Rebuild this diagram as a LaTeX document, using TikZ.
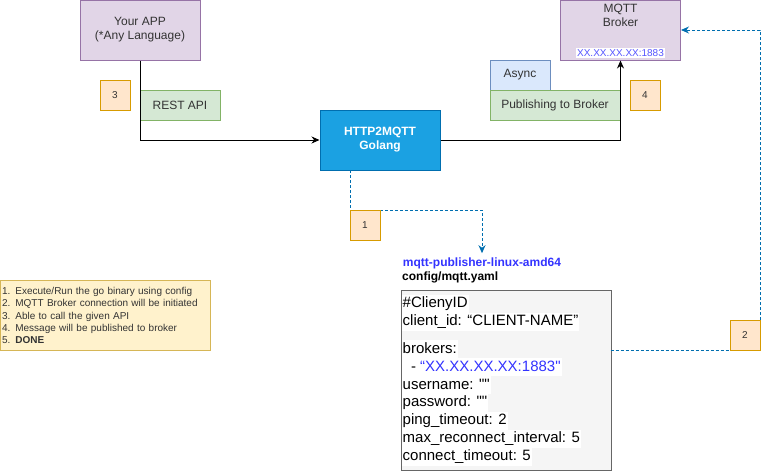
\documentclass[tikz,border=0pt]{standalone}
\usepackage{fontspec}
\setmainfont{Liberation Sans}[Ligatures=TeXOff]
\usetikzlibrary{arrows.meta}
\definecolor{purpfill}{HTML}{E1D5E7}
\definecolor{purpdraw}{HTML}{9673A6}
\definecolor{grnfill}{HTML}{D5E8D4}
\definecolor{grndraw}{HTML}{82B366}
\definecolor{blufill}{HTML}{DAE8FC}
\definecolor{bludraw}{HTML}{6C8EBF}
\definecolor{numfill}{HTML}{FFE6CC}
\definecolor{numdraw}{HTML}{D79B00}
\definecolor{notefill}{HTML}{FFF2CC}
\definecolor{notedraw}{HTML}{D6B656}
\definecolor{goFill}{HTML}{1BA1E2}
\definecolor{goDraw}{HTML}{006EAF}
\definecolor{dblue}{HTML}{006EAF}
\definecolor{cfgfill}{HTML}{F5F5F5}
\definecolor{cfgdraw}{HTML}{666666}
\definecolor{txtblue}{HTML}{3333FF}
\definecolor{ipblue}{HTML}{5555FF}
\definecolor{boxtext}{HTML}{333333}
\begin{document}
\begin{tikzpicture}[x=1pt,y=-1pt,
  box/.style={draw, rectangle, line width=1pt, inner sep=0pt, align=center,
    text=boxtext, font=\fontsize{12}{14}\selectfont},
  purpbox/.style={box, fill=purpfill, draw=purpdraw, minimum width=120pt, minimum height=60pt},
  greenbox/.style={box, fill=grnfill, draw=grndraw, minimum height=30pt},
  bluebox/.style={box, fill=blufill, draw=bludraw, minimum height=30pt},
  numbox/.style={box, fill=numfill, draw=numdraw, minimum width=30pt, minimum height=30pt,
    font=\fontsize{10}{12}\selectfont},
  flow/.style={line width=1pt, -{Stealth[length=8pt,width=7pt]}},
  dflow/.style={line width=1pt, draw=dblue, dash pattern=on 3pt off 2pt,
    -{Stealth[length=8pt,width=7pt]}},
  cfgline/.style={anchor=west, fill=white, inner xsep=1pt, inner ysep=0pt,
    minimum height=18pt, font=\fontsize{15}{18}\selectfont}
]
\useasboundingbox (0,0) rectangle (769,471);

% main boxes
\node[purpbox] (app) at (140,30) {Your APP\\(*Any Language)};
\node[purpbox, minimum width=120pt] (broker) at (620.5,30) {};
\node[text=boxtext, align=center, font=\fontsize{12}{14.5}\selectfont, inner sep=0pt]
  (brokertxt) at (620.5,15.5) {MQTT\\Broker};
\node[fill=white, text=ipblue, inner xsep=1pt, inner ysep=1pt,
  font=\fontsize{10}{12}\selectfont] (ip) at (620.5,53) {XX.XX.XX.XX:1883};

\node[bluebox, minimum width=60pt] (async) at (520,75) {Async};
\node[greenbox, minimum width=130pt] (pub) at (555,105) {Publishing to Broker};
\node[greenbox, minimum width=80pt] (rest) at (180,105) {REST API};
\node[box, fill=goFill, draw=goDraw, text=white, minimum width=120pt, minimum height=60pt,
  font=\bfseries\fontsize{12}{14}\selectfont] (http) at (380,140) {HTTP2MQTT\\Golang};

% notes
\node[draw=notedraw, fill=notefill, line width=1pt, anchor=north west,
  text width=207pt, inner xsep=1.5pt, inner ysep=0pt, minimum height=70pt, align=left,
  font=\fontsize{10}{12.4}\selectfont, text=boxtext] (note) at (0,280)
  {1. Execute/Run the go binary using config\\
   2. MQTT Broker connection will be initiated\\
   3. Able to call the given API\\
   4. Message will be published to broker\\
   5. \textbf{DONE}};

% binary labels
\node[text=txtblue, font=\bfseries\fontsize{12}{14}\selectfont, inner xsep=0pt, inner ysep=4pt]
  (bin) at (482,263) {mqtt-publisher-linux-amd64};
\node[anchor=west, font=\bfseries\fontsize{12}{14}\selectfont, inner sep=0pt]
  (cfgname) at (402,277) {config/mqtt.yaml};

% config box
\node[draw=cfgdraw, fill=cfgfill, line width=1pt, anchor=north west,
  minimum width=210pt, minimum height=180pt, inner sep=0pt] (cfg) at (400.5,290) {};
\node[cfgline] (l1) at (401.5,304) {\#ClienyID};
\node[cfgline] (l2) at (401.5,322) {client\_id: “CLIENT-NAME”};
\node[cfgline] (l3) at (401.5,348.5) {brokers:};
\node[cfgline] (l4) at (401.5,366.5) {\ \ - \textcolor{txtblue}{“XX.XX.XX.XX:1883"}};
\node[cfgline] (l5) at (401.5,384.5) {username: ""};
\node[cfgline] (l6) at (401.5,402.5) {password: ""};
\node[cfgline] (l7) at (401.5,420.5) {ping\_timeout: 2};
\node[cfgline] (l8) at (401.5,438.5) {max\_reconnect\_interval: 5};
\node[cfgline] (l9) at (401.5,456.5) {connect\_timeout: 5};

% connectors
\draw[flow] (app.south) |- (http.west);
\draw[flow] (http.east) -| (broker.south);

\coordinate (d1) at (350,170);
\coordinate (d1b) at (350,210);
\draw[dflow] (d1) -- (d1b) -| (bin.north);

\coordinate (c2) at (610.5,350.5);
\coordinate (c3) at (760,30);
\draw[dflow] (c2) -| (c3) -- (broker.east);

% number boxes
\node[numbox] (n1) at (365,225) {1};
\node[numbox] (n2) at (745,335.5) {2};
\node[numbox] (n3) at (115,95) {3};
\node[numbox] (n4) at (645,95) {4};
\end{tikzpicture}
\end{document}
